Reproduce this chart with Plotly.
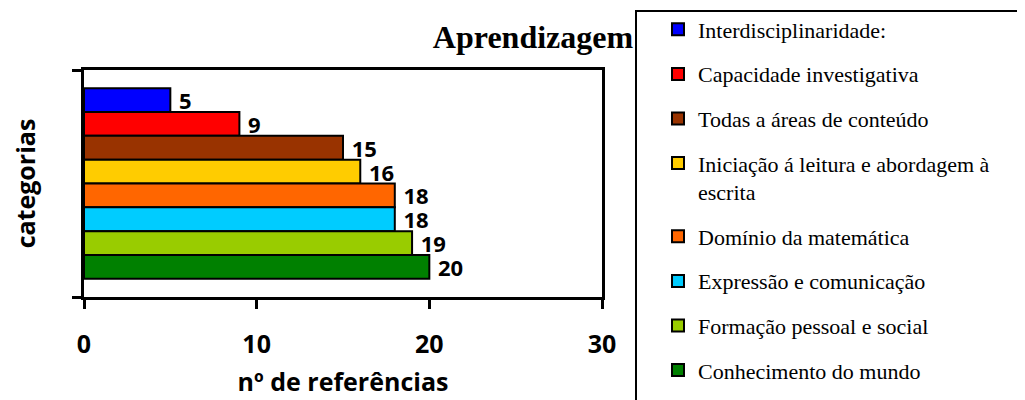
import plotly.graph_objects as go

# ---- data ----
categories = [
    "Interdisciplinaridade:",
    "Capacidade investigativa",
    "Todas a áreas de conteúdo",
    "Iniciação á leitura e abordagem à<br>escrita",
    "Domínio da matemática",
    "Expressão e comunicação",
    "Formação pessoal e social",
    "Conhecimento do mundo",
]
values = [5, 9, 15, 16, 18, 18, 19, 20]
colors = ["#0000FF", "#FF0000", "#993300", "#FFCC00", "#FF6600", "#00CCFF", "#99CC00", "#008000"]
x_ticks = [0, 10, 20, 30]
title_text = "Aprendizagem"
x_title = "nº de referências"
y_title = "categorias"

# ---- layout constants ----
W, H = 1025, 400
ML, MR, MT, MB = 76, 431, 62, 111
PW, PH = W - ML - MR, H - MT - MB

def px_to_paper_x(px):
    return (px - ML) / PW

def px_to_paper_y(py):
    return (H - MB - py) / PH

sans = dict(family="Open Sans", size=25, color="black", weight="bold")
label_font = dict(family="Open Sans", size=22, color="black", weight="bold")
serif_legend = dict(family="Liberation Serif", size=22, color="black")

fig = go.Figure()
for i, (name, v, c) in enumerate(zip(categories, values, colors)):
    fig.add_trace(go.Bar(
        x=[v], y=[0], orientation="h", name=name, legendgroup=f"g{i}",
        marker=dict(color=c, line=dict(color="black", width=2)),
        texttemplate=" %{x}", textposition="outside",
        textfont=label_font, cliponaxis=False, constraintext="none",
        hoverinfo="x+name",
    ))

frame = dict(
    type="rect", xref="paper", yref="paper", layer="above",
    x0=px_to_paper_x(628), x1=px_to_paper_x(1100),
    y0=px_to_paper_y(3), y1=px_to_paper_y(460),
    line=dict(color="black", width=2), fillcolor="rgba(0,0,0,0)",
)

fig.update_layout(
    width=W, height=H,
    margin=dict(l=ML, r=MR, t=MT, b=MB, autoexpand=False),
    paper_bgcolor="white", plot_bgcolor="white",
    barmode="group", bargap=0.16, bargroupgap=0,
    title=dict(text=title_text, xref="container", x=525 / W, xanchor="center",
               yref="container", y=1 - 29 / H, yanchor="middle",
               font=dict(family="Liberation Serif", size=32, color="black", weight="bold")),
    xaxis=dict(range=[0, 30], tickvals=x_ticks, ticks="outside", ticklen=9, tickwidth=2.5,
               tickcolor="black", showline=True, linewidth=3, linecolor="black", mirror=True,
               showgrid=False, zeroline=False, tickfont=sans, ticklabelstandoff=14,
               title=dict(text=x_title, font=sans, standoff=15)),
    yaxis=dict(range=[0.5, -0.5], tickvals=[-0.5, 0.5], showticklabels=False, ticks="outside",
               ticklen=9, tickwidth=2.5, tickcolor="black", showline=True, linewidth=3,
               linecolor="black", mirror=True, showgrid=False, zeroline=False,
               title=dict(text=y_title, font=sans, standoff=38)),
    legend=dict(xref="container", x=650 / W, xanchor="left",
                yref="container", y=1 - 0.5 / H, yanchor="top",
                bgcolor="rgba(0,0,0,0)", borderwidth=0, font=serif_legend,
                traceorder="grouped", tracegroupgap=13, valign="top", maxheight=420),
    showlegend=True,
    shapes=[frame],
)

fig.write_html("out.html")
